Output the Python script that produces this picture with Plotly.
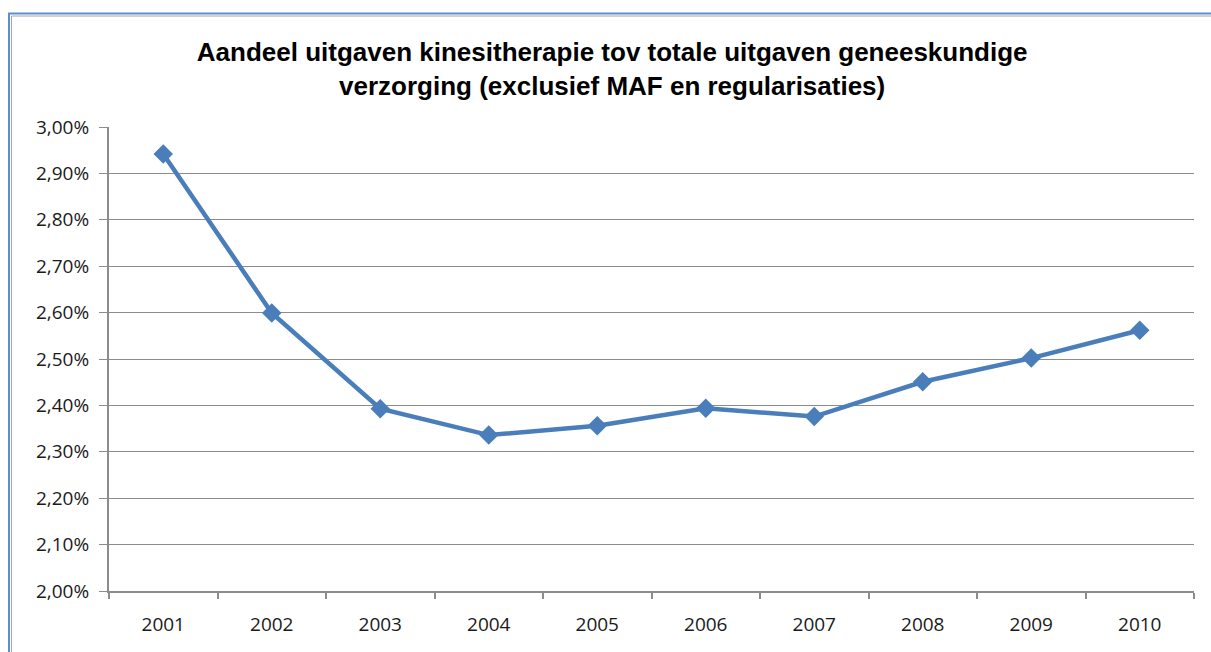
import plotly.graph_objects as go

# Share of physiotherapy spending in total health care spending
years = ["2001", "2002", "2003", "2004", "2005", "2006", "2007", "2008", "2009", "2010"]
share = [0.02942, 0.02599, 0.02393, 0.02336, 0.02356, 0.02394, 0.02376, 0.02451, 0.02502, 0.02562]
y_ticks = [0.020, 0.021, 0.022, 0.023, 0.024, 0.025, 0.026, 0.027, 0.028, 0.029, 0.030]

W, H = 1211, 652
ML, MR, MT, MB = 109, 17, 127, 61
PW, PH = W - ML - MR, H - MT - MB


def px(x):
    return (x - ML) / PW


def py(y):
    return (H - MB - y) / PH


line_color = "#4a7ebb"
grid_color = "#8c8c8c"

fig = go.Figure()
fig.add_trace(go.Scatter(
    x=years, y=share, mode="lines+markers",
    line=dict(color=line_color, width=4.5),
    marker=dict(symbol="diamond", size=15, color=line_color),
    showlegend=False,
))

# chart frame: blue outer line with a grey inner line
shapes = [
    dict(type="rect", xref="paper", yref="paper",
         x0=px(9), x1=px(1230), y0=py(13.5), y1=py(700),
         line=dict(color="#5a8ed0", width=2)),
    dict(type="rect", xref="paper", yref="paper",
         x0=px(11.5), x1=px(1230), y0=py(16), y1=py(700),
         line=dict(color="#a6a6a6", width=1)),
]

fig.update_layout(
    width=W, height=H,
    margin=dict(l=ML, r=MR, t=MT, b=MB),
    paper_bgcolor="white", plot_bgcolor="white",
    separators=",.",
    shapes=shapes,
    title=dict(
        text="Aandeel uitgaven kinesitherapie tov totale uitgaven geneeskundige<br>verzorging (exclusief MAF en regularisaties)",
        x=0.5055, xanchor="center", y=1 - 61 / H, yanchor="middle",
        font=dict(family="Liberation Sans", size=26, color="black", weight="bold"),
    ),
    font=dict(family="Open Sans", size=19, color="#1a1a1a"),
    xaxis=dict(
        type="category", tickson="boundaries", range=[-0.5, 9.5],
        showline=True, linecolor=grid_color, linewidth=2,
        ticks="outside", ticklen=6, tickcolor=grid_color, tickwidth=2,
        showgrid=False, ticklabelstandoff=15,
    ),
    yaxis=dict(
        range=[0.020, 0.030], tickvals=y_ticks, tickformat=".2%",
        showline=True, linecolor=grid_color, linewidth=2,
        ticks="outside", ticklen=8, tickcolor=grid_color, tickwidth=1,
        showgrid=True, gridcolor=grid_color, gridwidth=1,
        zeroline=False, ticklabelstandoff=6,
    ),
)

fig.write_html("out.html")
